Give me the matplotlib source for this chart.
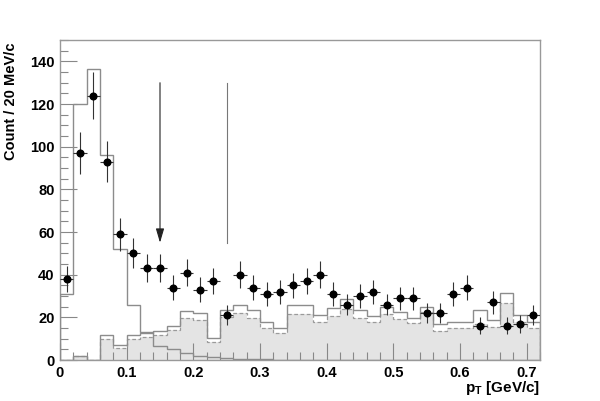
import numpy as np
import matplotlib
matplotlib.use("Agg")
import matplotlib.pyplot as plt
from matplotlib.ticker import MultipleLocator

plt.rcParams['font.family'] = ['Liberation Sans', 'DejaVu Sans']
plt.rcParams['font.weight'] = 'bold'

bin_width = 0.02
pt_min, pt_max = 0.0, 0.72

data_counts = [38, 97, 124, 93, 59, 50, 43, 43, 34, 41, 33, 37, 21, 40, 34, 31, 32, 35,
               37, 40, 31, 26, 30, 32, 26, 29, 29, 22, 22, 31, 34, 16, 27, 16, 17, 21]

signal_hist = [31, 120, 136.5, 96, 52, 26, 13.2, 6.6, 5.2, 3.1, 2.0, 1.4, 0.9, 0.6, 0.4, 0.3,
               0.2, 0.2, 0.1, 0.1, 0, 0, 0, 0, 0, 0, 0, 0, 0, 0, 0, 0, 0, 0, 0, 0]

bkg_total = [0, 2.0, 0, 11.7, 7.0, 11.7, 12.5, 13.8, 16.0, 23.2, 22.2, 10.2, 23.5, 25.8,
             23.5, 17.6, 15.2, 25.8, 25.8, 21.1, 24.6, 28.5, 23.5, 20.8, 24.7, 22.4, 19.9,
             24.7, 16.7, 17.7, 17.7, 23.5, 18.8, 31.6, 21.1, 18.0]

bkg_main = [0, 1.8, 0, 9.7, 5.8, 9.7, 10.7, 11.7, 14.1, 19.6, 18.8, 8.6, 20.0, 21.9, 19.9,
            15.2, 12.8, 21.6, 21.6, 17.7, 20.8, 23.8, 19.6, 17.7, 21.5, 19.1, 17.2, 22.4,
            13.8, 14.9, 14.9, 17.0, 15.7, 26.6, 17.7, 15.0]

cut_positions = [0.15, 0.25]
cut_top, cut_bottom = 130, 55

nb = len(data_counts)
edges = pt_min + bin_width * np.arange(nb + 1)
centers = edges[:-1] + bin_width / 2

fig = plt.figure(figsize=(6.0, 4.01), dpi=100)
ax = fig.add_axes([0.1, 0.1022, 0.8, 0.7978])

line_col = '#8c8c8c'
ax.stairs(bkg_main, edges, fill=True, color='#e4e4e4', linewidth=0, zorder=1)
ax.stairs(bkg_main, edges, color='#9a9a9a', linestyle=(0, (3, 2)), linewidth=0.9, zorder=2)
ax.stairs(bkg_total, edges, color=line_col, linewidth=1.0, zorder=3)
ax.stairs(signal_hist, edges, color=line_col, linewidth=1.0, zorder=3)

derr = np.sqrt(np.array(data_counts, dtype=float))
ax.errorbar(centers, data_counts, yerr=derr, xerr=bin_width / 2, fmt='o', color='black',
            ecolor='#333333', elinewidth=0.8, markersize=4.8, capsize=0, zorder=5)

# cut markers
ax.annotate('', xy=(cut_positions[0], cut_bottom), xytext=(cut_positions[0], cut_top),
            arrowprops=dict(arrowstyle='-|>,head_length=0.85,head_width=0.25',
                            color='#222222', lw=0.8, shrinkA=0, shrinkB=0,
                            mutation_scale=10), zorder=6)
ax.plot([cut_positions[1], cut_positions[1]], [cut_bottom, cut_top], color='#777777', lw=0.8,
        zorder=6)

ax.set_xlim(pt_min, pt_max)
ax.set_ylim(0, 150)
ax.xaxis.set_major_locator(MultipleLocator(0.1))
ax.xaxis.set_minor_locator(MultipleLocator(0.02))
ax.yaxis.set_major_locator(MultipleLocator(20))
ax.yaxis.set_minor_locator(MultipleLocator(5))
ax.xaxis.set_major_formatter(matplotlib.ticker.FuncFormatter(lambda v, p: ('%g' % round(v, 3))))

ax.tick_params(which='both', direction='in', top=False, right=False, color='#888888',
               labelsize=10.5, pad=4)
ax.tick_params(which='major', length=12, width=0.8)
ax.tick_params(which='minor', length=6, width=0.8)
for lbl in ax.get_xticklabels() + ax.get_yticklabels():
    lbl.set_fontweight('bold')
for sp in ax.spines.values():
    sp.set_color('#999999')
    sp.set_linewidth(1.0)

ax.set_ylabel('Count / 20 MeV/c', fontsize=10.5, fontweight='bold')
ax.yaxis.set_label_coords(-0.088, 0.81)
ax.set_xlabel(r'p$_\mathregular{T}$ [GeV/c]', fontsize=11, fontweight='bold')
ax.xaxis.set_label_coords(1.0, -0.06)
ax.xaxis.label.set_horizontalalignment('right')

fig.savefig('out.png', dpi=100, facecolor='white')
